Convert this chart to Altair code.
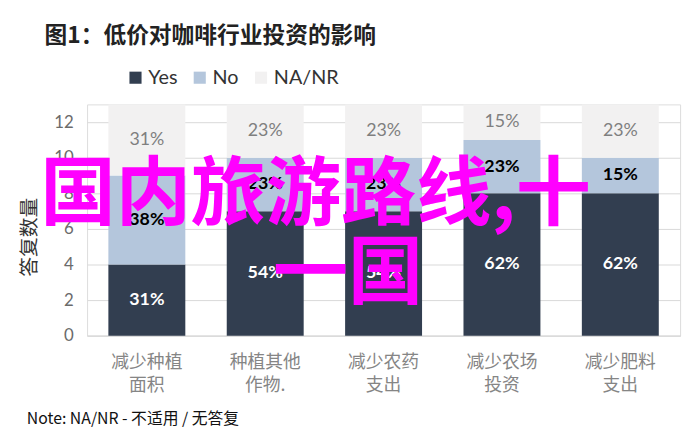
import altair as alt
import pandas as pd

categories = ["减少种植\n面积", "种植其他\n作物.", "减少农药\n支出", "减少农场\n投资", "减少肥料\n支出"]
series = ["Yes", "No", "NA/NR"]
yes_vals = [4, 7, 7, 8, 8]
no_vals = [5, 3, 3, 3, 2]
na_vals = [4, 3, 3, 2, 3]
colors = ["#323e50", "#b4c6dc", "#f2f1f1"]
label_colors = ["white", "black", "#7f7f7f"]
label_weights = ["bold", "bold", "normal"]
y_ticks = [0, 2, 4, 6, 8, 10, 12]

rows = []
for i, c in enumerate(categories):
    for k, (s, vals) in enumerate(zip(series, [yes_vals, no_vals, na_vals])):
        rows.append({"cat": c, "series": s, "value": vals[i], "order": k})
df = pd.DataFrame(rows)

FONT_CJK = "Noto Sans CJK SC"
FONT_NUM = "Lato"

x_axis = alt.Axis(labelExpr="split(datum.label, '\\n')", labelAngle=0,
                  labelFontSize=18, labelLineHeight=23, labelColor="#858585",
                  labelFont=FONT_CJK, labelPadding=18, ticks=False, grid=False,
                  domainColor="#d9d9d9", labelFontWeight="normal")
x_scale = alt.Scale(paddingInner=0.35, paddingOuter=0.18)
y_axis = alt.Axis(values=y_ticks, title="答复数量",
                  titleFont=FONT_CJK, titleFontSize=20, titleColor="#333333",
                  titleFontWeight="normal", titleX=-58, titleY=134,
                  titleAngle=-90, titleAlign="center", titleBaseline="middle",
                  labelFontSize=17, labelColor="#6b6b6b", labelFont=FONT_NUM,
                  labelPadding=14, ticks=False, domain=False, labelOverlap=False,
                  grid=True, gridColor="#d9d9d9")
y_scale = alt.Scale(domain=[0, 13], nice=False)

base = alt.Chart(df)

bars = base.mark_bar(strokeWidth=0, stroke=None).encode(
    x=alt.X("cat:N", sort=categories, title=None, scale=x_scale, axis=x_axis),
    y=alt.Y("value:Q", stack="zero", title="答复数量", scale=y_scale, axis=y_axis),
    color=alt.Color("series:N", sort=series,
                    scale=alt.Scale(domain=series, range=colors),
                    legend=alt.Legend(title=None, orient="none", direction="horizontal",
                                      legendX=39, legendY=-37, symbolType="square",
                                      symbolSize=150, symbolStrokeWidth=0,
                                      labelFontSize=20, labelFont=FONT_NUM,
                                      labelColor="#333333", columnPadding=12,
                                      labelOffset=3)),
    order=alt.Order("order:Q", sort="ascending"),
)

label_base = base.transform_joinaggregate(
    total="sum(value)", groupby=["cat"]
).transform_calculate(
    pct="round(datum.value / datum.total * 100) + '%'"
).transform_stack(
    stack="value", groupby=["cat"], as_=["y0", "y1"],
    sort=[alt.SortField("order", order="ascending")]
).transform_calculate(mid="(datum.y0 + datum.y1) / 2")

labels = []
for s, col, w in zip(series, label_colors, label_weights):
    labels.append(
        label_base.transform_filter(alt.datum.series == s).mark_text(
            font=FONT_NUM, fontSize=18, color=col, fontWeight=w, baseline="middle"
        ).encode(x=alt.X("cat:N", sort=categories, title=None, scale=x_scale, axis=x_axis),
                 y=alt.Y("mid:Q", title="答复数量", scale=y_scale, axis=y_axis),
                 text="pct:N")
    )

ann = pd.DataFrame({"t": [0]})
note = alt.Chart(ann).mark_text(
    text="Note: NA/NR - 不适用 / 无答复", font=FONT_CJK, fontSize=16, color="#111111",
    align="left", baseline="middle"
).encode(x=alt.value(-61), y=alt.value(318))

title_txt = alt.Chart(ann).mark_text(
    text="图1：低价对咖啡行业投资的影响", font=FONT_CJK, fontSize=23, color="#222222",
    fontWeight="bold", align="left", baseline="middle"
).encode(x=alt.value(-43), y=alt.value(-69))

wm1 = alt.Chart(ann).mark_text(
    text="国内旅游路线,十", font=FONT_CJK, fontSize=76, color="#ff00ff",
    fontWeight="bold", align="left", baseline="middle"
).encode(x=alt.value(-47), y=alt.value(93))

wm2 = alt.Chart(ann).mark_text(
    text="一国", font=FONT_CJK, fontSize=76, color="#ff00ff",
    fontWeight="bold", align="left", baseline="middle"
).encode(x=alt.value(188), y=alt.value(173))

chart = alt.layer(bars, *labels, note, title_txt, wm1, wm2).properties(
    width=600, height=234,
    autosize=alt.AutoSizeParams(type="none"),
    padding={"left": 80, "top": 95, "right": 8, "bottom": 100},
).configure_view(stroke=None).configure(background="white")

chart.save("out.html", embed_options={"renderer": "svg", "actions": False})
